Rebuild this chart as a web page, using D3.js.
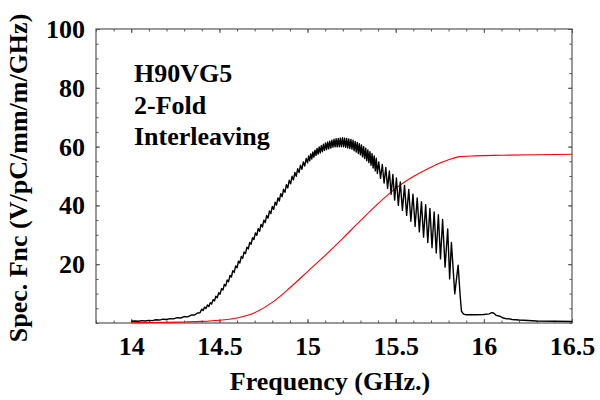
<!DOCTYPE html>
<html><head><meta charset="utf-8">
<script src="https://cdn.jsdelivr.net/npm/d3@7"></script>
<style>
html,body{margin:0;padding:0;background:#fff;}
text{font-family:"Liberation Serif","Times New Roman",serif;font-weight:bold;fill:#000;}
</style></head>
<body><svg id="c" width="600" height="400"></svg>
<script>
// ---- data ----
const xDomain = [13.8, 16.5];
const yDomain = [0, 100];
const xTickValues = [14, 14.5, 15, 15.5, 16, 16.5];
const xTickLabels = ["14", "14.5", "15", "15.5", "16", "16.5"];
const yTickValues = [20, 40, 60, 80, 100];
const yTickLabels = ["20", "40", "60", "80", "100"];
const xTitle = "Frequency (GHz.)";
const yTitle = "Spec. Fnc (V/pC/mm/m/GHz)";
const annotation = ["H90VG5", "2-Fold", "Interleaving"];

// black: spectral function (frequency GHz, value)
const specFnc = [
[14.000,0.6],[14.020,0.7],[14.040,0.6],[14.060,0.8],[14.080,0.7],[14.100,0.9],[14.120,0.8],[14.140,1.1],[14.160,1.0],[14.180,1.3],[14.200,1.2],[14.220,1.5],[14.240,1.4],[14.260,1.8],[14.280,1.7],[14.300,2.2],[14.320,2.1],[14.340,2.7],[14.360,2.7],[14.375,3.4],[14.390,3.5],
[14.400,4.7],[14.408,4.25],[14.416,5.4],[14.424,4.95],[14.432,6.15],[14.440,5.6],[14.448,6.9],[14.456,6.45],[14.464,7.95],[14.472,7.5],[14.480,9.1],[14.488,8.6],[14.496,10.3],[14.504,9.8],[14.512,11.7],[14.520,11.2],[14.528,13.1],[14.536,12.6],[14.544,14.6],[14.552,14.05],[14.560,16.15],[14.568,15.65],[14.576,17.8],[14.584,17.2],[14.592,19.4],[14.600,18.8],[14.608,21.0],[14.616,20.4],[14.624,22.6],[14.632,22.0],[14.640,24.2],[14.648,23.6],[14.656,25.8],[14.664,25.2],[14.672,27.4],[14.680,26.8],[14.688,29.0],[14.696,28.4],[14.704,30.65],[14.712,29.8],[14.720,32.1],[14.728,31.2],[14.736,33.55],[14.744,32.65],[14.752,35.0],[14.760,34.15],[14.768,36.55],[14.776,35.65],[14.784,38.1],[14.792,37.2],[14.800,39.65],[14.808,38.65],[14.816,41.1],[14.824,40.1],[14.832,42.55],[14.840,41.5],[14.848,44.0],[14.856,42.95],[14.864,45.5],[14.872,44.45],[14.880,47.05],[14.888,45.95],[14.896,48.55],[14.904,47.35],[14.912,49.9],[14.920,48.65],[14.928,51.2],[14.936,49.9],[14.944,52.5],[14.952,51.15],[14.960,53.7],[14.968,52.25],[14.976,54.8],[14.984,53.4],[14.992,55.95],[15.000,54.5],
[15.006,56.8],[15.012,55.15],[15.018,57.5],[15.024,55.8],[15.030,58.15],[15.036,56.4],[15.042,58.8],[15.048,57.05],[15.054,59.4],[15.060,57.45],[15.066,59.9],[15.072,57.85],[15.078,60.35],[15.084,58.25],[15.090,60.8],[15.096,58.7],[15.102,61.25],[15.108,59.0],[15.114,61.55],[15.120,59.25],[15.126,61.85],[15.132,59.5],[15.138,62.15],[15.144,59.8],[15.150,62.5],[15.156,59.9],[15.162,62.65],[15.168,59.9],[15.174,62.75],[15.180,59.95],[15.186,62.9],[15.192,59.95],[15.198,63.0],[15.204,59.95],[15.210,62.9],[15.216,59.75],[15.222,62.75],[15.228,59.55],[15.234,62.6],[15.240,59.35],[15.246,62.45],[15.252,59.1],[15.258,62.15],[15.264,58.6],[15.270,61.75],[15.276,58.15],[15.282,61.4],[15.288,57.65],[15.294,61.0],[15.300,57.2],[15.306,60.55],[15.312,56.5],[15.318,60.0],[15.324,55.9],[15.330,59.45],[15.336,55.2],[15.342,58.9],[15.348,54.55],[15.354,58.3],[15.360,53.65],[15.366,57.6],[15.372,52.7],[15.378,56.85],[15.384,51.75],[15.390,56.05],[15.396,50.85],
[15.404,54.8],[15.414,49.2],[15.424,53.9],[15.434,47.6],[15.444,52.9],[15.454,45.8],[15.464,51.7],[15.474,43.8],[15.484,50.5],[15.494,41.8],[15.504,49.3],[15.515,40.0],[15.526,48.0],[15.538,38.3],[15.550,46.8],[15.562,36.6],[15.574,45.4],[15.586,34.6],[15.598,43.8],[15.610,32.8],[15.622,42.5],[15.634,31.0],[15.646,41.3],[15.658,29.2],[15.670,40.2],[15.682,27.4],[15.694,39.0],[15.706,25.6],[15.718,37.8],[15.730,23.8],[15.742,36.8],[15.754,21.8],[15.766,35.2],[15.780,19.0],[15.795,32.0],[15.806,15.0],[15.816,27.4],[15.835,9.9],[15.854,19.7],[15.866,9.0],[15.873,4.0],[15.885,3.0],[15.900,2.8],[15.950,2.8],[16.000,2.9],[16.030,3.1],[16.045,3.5],[16.055,3.4],[16.070,2.6],[16.090,2.3],[16.110,1.7],[16.130,1.4],[16.140,1.5],[16.160,1.2],[16.200,1.0],[16.300,0.7],[16.400,0.6],[16.500,0.5]
];

// red: integrated curve (frequency GHz, value)
const redCurve = [
[14.00,0.1],[14.10,0.15],[14.20,0.2],[14.30,0.35],[14.40,0.55],[14.50,0.95],[14.60,1.7],[14.70,3.5],[14.80,7.0],[14.90,12.0],[15.00,17.5],[15.10,23.0],[15.20,28.8],[15.30,34.8],[15.40,40.6],[15.50,45.8],[15.60,49.8],[15.70,53.0],[15.80,55.5],[15.864,56.6],[15.95,56.85],[16.10,57.05],[16.30,57.25],[16.50,57.4]
];

// ---- drawing ----
const svg = d3.select("#c");
svg.append("rect").attr("width",600).attr("height",400).attr("fill","#fff");
const L = 96, R = 572, T = 29, B = 323;
const x = d3.scaleLinear().domain(xDomain).range([L, R]);
const y = d3.scaleLinear().domain(yDomain).range([B, T]);
const frameColor = "#555";

const minorX = d3.range(138, 166).map(d => d / 10);
const minorY = d3.range(0, 21).map(d => d * 5);

function styleAxis(g){
  g.select(".domain").remove();
  g.selectAll(".tick line").attr("stroke", frameColor).attr("stroke-width", 1);
}
// minor ticks
svg.append("g").attr("transform",`translate(0,${B})`).call(d3.axisBottom(x).tickValues(minorX).tickSize(-2.5).tickFormat("")).call(styleAxis);
svg.append("g").attr("transform",`translate(0,${T})`).call(d3.axisTop(x).tickValues(minorX).tickSize(-2.5).tickFormat("")).call(styleAxis);
svg.append("g").attr("transform",`translate(${L},0)`).call(d3.axisLeft(y).tickValues(minorY).tickSize(-2.5).tickFormat("")).call(styleAxis);
svg.append("g").attr("transform",`translate(${R},0)`).call(d3.axisRight(y).tickValues(minorY).tickSize(-2.5).tickFormat("")).call(styleAxis);
// major ticks
const xb = svg.append("g").attr("transform",`translate(0,${B})`)
  .call(d3.axisBottom(x).tickValues(xTickValues).tickSize(-4).tickPadding(0).tickFormat((d,i)=>xTickLabels[i])).call(styleAxis);
xb.selectAll(".tick text").attr("y", 32).attr("dy", 0).style("font-size","26px").attr("fill","#000");
svg.append("g").attr("transform",`translate(0,${T})`).call(d3.axisTop(x).tickValues(xTickValues).tickSize(-4).tickFormat("")).call(styleAxis);
const yl = svg.append("g").attr("transform",`translate(${L},0)`)
  .call(d3.axisLeft(y).tickValues(yTickValues).tickSize(-4).tickFormat((d,i)=>yTickLabels[i])).call(styleAxis);
yl.selectAll(".tick text").attr("x", -11).attr("dy", "0.33em").style("font-size","26px").attr("fill","#000");
svg.append("g").attr("transform",`translate(${R},0)`).call(d3.axisRight(y).tickValues(yTickValues).tickSize(-4).tickFormat("")).call(styleAxis);

// frame
svg.append("rect").attr("x",L).attr("y",T).attr("width",R-L).attr("height",B-T)
  .attr("fill","none").attr("stroke",frameColor).attr("stroke-width",1.2);

// curves
const line = d3.line().x(d => x(d[0])).y(d => y(d[1]));
const smooth = d3.line().x(d => x(d[0])).y(d => y(d[1])).curve(d3.curveMonotoneX);
svg.append("path").datum(redCurve).attr("d", smooth).attr("fill","none").attr("stroke","#ff0000").attr("stroke-width",1.1);
svg.append("path").datum(specFnc).attr("d", line).attr("fill","none").attr("stroke","#000").attr("stroke-width",1.4).attr("stroke-linejoin","round");

// annotation
const ann = svg.append("g");
annotation.forEach((t,i) => {
  ann.append("text").attr("x",134).attr("y",82 + i*31.5).style("font-size","26px").text(t);
});

// titles
svg.append("text").attr("x",330).attr("y",390).attr("text-anchor","middle").style("font-size","26px").text(xTitle);
svg.append("text").attr("transform","translate(27,178) rotate(-90)").attr("text-anchor","middle").style("font-size","26px").text(yTitle);
</script></body></html>
